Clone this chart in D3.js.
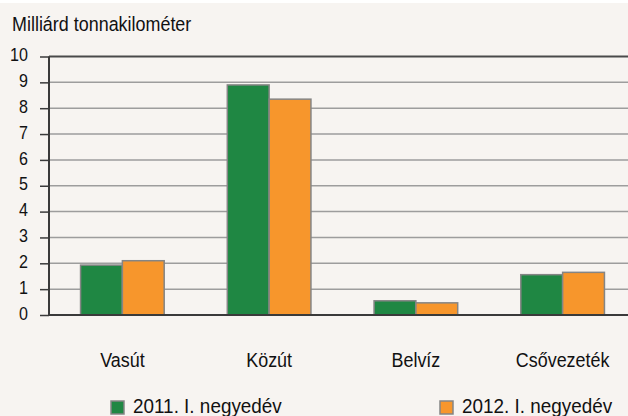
<!DOCTYPE html>
<html>
<head>
<meta charset="utf-8">
<script src="https://cdn.jsdelivr.net/npm/d3@7"></script>
<style>
  body { margin: 0; background: #fff; }
  svg { display: block; font-family: "Liberation Sans", Arial, sans-serif; }
</style>
</head>
<body>
<div id="content"></div>
<script>
var categories = ["Vasút", "Közút", "Belvíz", "Csővezeték"];
var seriesNames = ["2011. I. negyedév", "2012. I. negyedév"];
var values2011 = [1.93, 8.9, 0.55, 1.56];
var values2012 = [2.1, 8.35, 0.47, 1.65];
var yTicks = [0, 1, 2, 3, 4, 5, 6, 7, 8, 9, 10];
var colors = ["#1f8743", "#f7962c"];

var width = 628, height = 416;
var margin = { top: 56.5, right: -8, bottom: 101, left: 49 };
var sx = 0.92; // text in the original is slightly condensed

var svg = d3.select("#content").append("svg")
    .attr("width", width)
    .attr("height", height);

svg.append("rect")
    .attr("width", width).attr("height", height)
    .attr("fill", "#f7f4f1");
svg.append("rect")
    .attr("width", width).attr("height", 3)
    .attr("fill", "#ffffff");

var x = d3.scaleBand()
    .domain(categories)
    .range([margin.left, width - margin.right])
    .paddingInner(0.43)
    .paddingOuter(0.215);

var x1 = d3.scaleBand()
    .domain(seriesNames)
    .range([0, x.bandwidth()]);

var y = d3.scaleLinear()
    .domain([0, 10])
    .range([height - margin.bottom, margin.top]);

// gridlines
svg.append("g")
    .selectAll("line")
    .data(yTicks.filter(function (d) { return d > 0; }))
    .join("line")
    .attr("x1", margin.left)
    .attr("x2", width)
    .attr("y1", function (d) { return y(d); })
    .attr("y2", function (d) { return y(d); })
    .attr("stroke", function (d) { return d == 10 ? "#4a4a4a" : "#9d9d9d"; })
    .attr("stroke-width", function (d) { return d == 10 ? 2 : 1.5; });

// bars
var data = categories.map(function (c, i) {
  return { cat: c, vals: [values2011[i], values2012[i]] };
});
svg.append("g")
    .selectAll("g")
    .data(data)
    .join("g")
    .attr("transform", function (d) { return "translate(" + x(d.cat) + ",0)"; })
    .selectAll("rect")
    .data(function (d) { return d.vals.map(function (v, j) { return { v: v, j: j }; }); })
    .join("rect")
    .attr("x", function (d) { return x1(seriesNames[d.j]); })
    .attr("width", x1.bandwidth())
    .attr("y", function (d) { return y(d.v); })
    .attr("height", function (d) { return y(0) - y(d.v); })
    .attr("fill", function (d) { return colors[d.j]; })
    .attr("stroke", "#858585")
    .attr("stroke-width", 1.5);

// y axis
var yAxis = d3.axisLeft(y).tickValues(yTicks).tickSize(9).tickPadding(12);
var ya = svg.append("g")
    .attr("transform", "translate(" + margin.left + ",0)")
    .call(yAxis);
ya.select(".domain").attr("stroke", "#3a3a3a").attr("stroke-width", 2).attr("d", "M0," + y(10) + "V" + y(0));
ya.selectAll(".tick line").attr("stroke", "#3a3a3a").attr("stroke-width", 1.5);
ya.selectAll(".tick text")
    .attr("fill", "#111")
    .attr("x", -21 / sx)
    .attr("dy", "0.24em")
    .attr("transform", "scale(" + sx + ",1)")
    .style("font-size", "17.5px")
    .style("font-family", "'Liberation Sans', Arial, sans-serif");

// x axis
var xAxis = d3.axisBottom(x).tickSize(0).tickPadding(38);
var xa = svg.append("g")
    .attr("transform", "translate(0," + y(0) + ")")
    .call(xAxis);
xa.select(".domain").attr("stroke", "#3a3a3a").attr("stroke-width", 2)
    .attr("d", "M" + margin.left + ",0H" + width);
xa.selectAll(".tick text")
    .attr("fill", "#111")
    .attr("transform", "scale(" + sx + ",1)")
    .style("font-size", "19.5px")
    .style("font-family", "'Liberation Sans', Arial, sans-serif");

// title
svg.append("text")
    .attr("transform", "translate(12,31) scale(" + sx + ",1)")
    .attr("fill", "#111")
    .style("font-size", "19.5px")
    .text("Milliárd tonnakilométer");

// legend
var legendX = [111, 440];
var legend = svg.append("g")
    .selectAll("g")
    .data(seriesNames)
    .join("g")
    .attr("transform", function (d, i) { return "translate(" + legendX[i] + ",401)"; });
legend.append("rect")
    .attr("width", 13).attr("height", 13)
    .attr("fill", function (d, i) { return colors[i]; })
    .attr("stroke", "#858585")
    .attr("stroke-width", 1.5);
legend.append("text")
    .attr("transform", "translate(22,12) scale(0.97,1)")
    .attr("fill", "#111")
    .style("font-size", "19.5px")
    .text(function (d) { return d; });
</script>
</body>
</html>
